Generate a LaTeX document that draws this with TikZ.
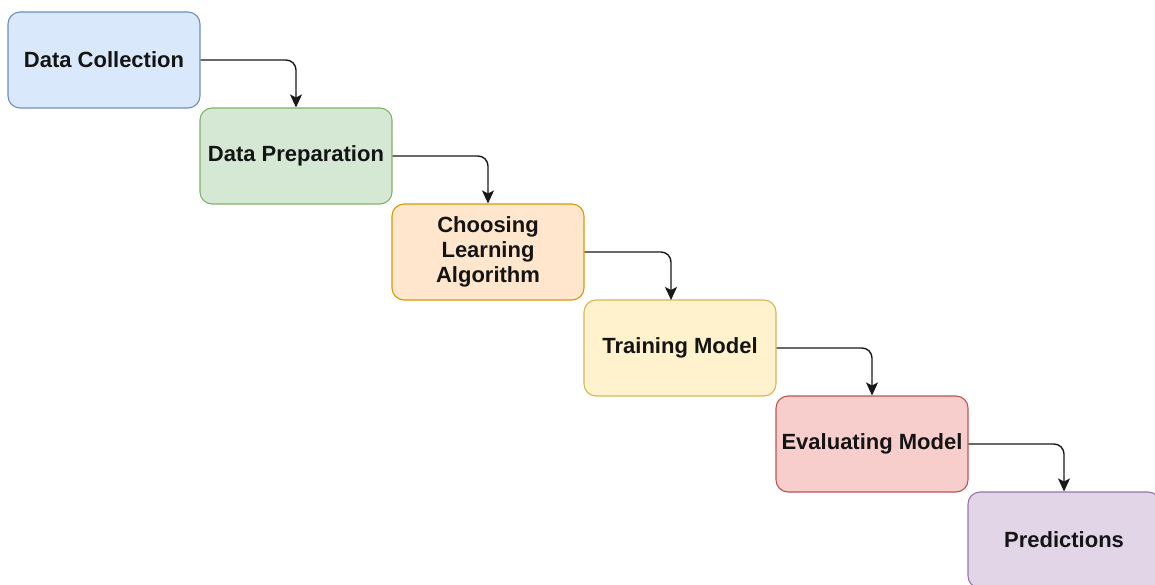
\documentclass[tikz,border=0pt]{standalone}
\usepackage{fontspec}
\setmainfont{Liberation Sans}
\usetikzlibrary{arrows.meta}
\definecolor{blueF}{HTML}{DAE8FC}\definecolor{blueD}{HTML}{6C8EBF}
\definecolor{greenF}{HTML}{D5E8D4}\definecolor{greenD}{HTML}{82B366}
\definecolor{orangeF}{HTML}{FFE6CC}\definecolor{orangeD}{HTML}{D79B00}
\definecolor{yellowF}{HTML}{FFF2CC}\definecolor{yellowD}{HTML}{D6B656}
\definecolor{redF}{HTML}{F8CECC}\definecolor{redD}{HTML}{B85450}
\definecolor{purpleF}{HTML}{E1D5E7}\definecolor{purpleD}{HTML}{9673A6}
\tikzset{
  stagebox/.style={draw=#1D, fill=#1F, line width=1.1pt, rounded corners=12pt,
    minimum width=192pt, minimum height=96pt, inner sep=0pt, align=center,
    font=\fontsize{22}{25}\selectfont\bfseries, text=black!92},
  flow/.style={draw=black!90, line width=1.4pt, rounded corners=10pt,
    -{Stealth[length=13pt,width=12pt,inset=3pt]}}
}
\begin{document}
\begin{tikzpicture}[x=1pt,y=-1pt]
  \useasboundingbox (0,0) rectangle (1155,585);
  \begin{scope}
    \clip (0,0) rectangle (1155,585);
    \node[stagebox=blue]   (dc) at (104,60)  {Data Collection};
    \node[stagebox=green]  (dp) at (296,156) {Data Preparation};
    \node[stagebox=orange] (ca) at (488,252) {Choosing\\Learning\\Algorithm};
    \node[stagebox=yellow] (tm) at (680,348) {Training Model};
    \node[stagebox=red]    (em) at (872,444) {Evaluating Model};
    \node[stagebox=purple] (pr) at (1064,540) {Predictions};
  \end{scope}
  \coordinate (tmin) at (671,300);
  \draw[flow] (dc.east) -| (dp.north);
  \draw[flow] (dp.east) -| (ca.north);
  \draw[flow] (ca.east) -| (tmin);
  \draw[flow] (tm.east) -| (em.north);
  \draw[flow] (em.east) -| (pr.north);
\end{tikzpicture}
\end{document}
